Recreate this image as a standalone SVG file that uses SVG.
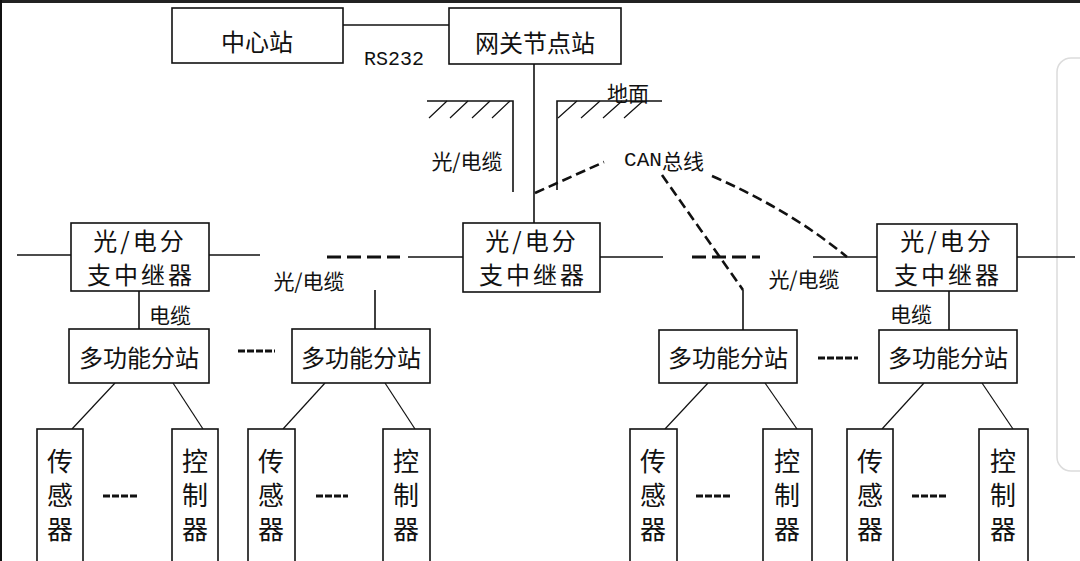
<svg xmlns="http://www.w3.org/2000/svg" width="1080" height="561" viewBox="0 0 1080 561">
<style>
.box{fill:#fff;stroke:#111;stroke-width:1.6}
.ln{stroke:#111;stroke-width:1.6;fill:none}
.hl{stroke:#111;stroke-width:1.2;fill:none}
.dash{stroke:#111;stroke-width:3;fill:none;stroke-dasharray:14 6}
.can{stroke:#111;stroke-width:2.6;fill:none;stroke-dasharray:10 5}
.sd{stroke:#111;stroke-width:3;fill:none;stroke-dasharray:7 2}
.t{font-family:"Noto Sans CJK SC","Liberation Sans",sans-serif;fill:#111;text-anchor:middle;dominant-baseline:central}
.big{font-size:24px;letter-spacing:3px}
.mid{font-size:24px}
.sm{font-size:21px}
.v{font-size:26px;writing-mode:vertical-rl;letter-spacing:8px}
.mono{font-family:"Liberation Mono",monospace;fill:#111;font-size:20px}
</style>
<rect x="0" y="0" width="1080" height="561" fill="#fff"/>
<rect x="1057" y="58" width="40" height="413" rx="14" fill="none" stroke="#dcdcdc" stroke-width="1.5"/>
<rect x="0" y="0" width="1080" height="3" fill="#222"/>
<rect x="0" y="0" width="2" height="561" fill="#111"/>

<g id="connectors">
  <line class="ln" x1="343" y1="25" x2="449" y2="25"/>
  <line class="ln" x1="534" y1="64" x2="534" y2="223"/>
  <polyline class="ln" points="427,101 513,101 513,192"/>
  <path class="hl" d="M447,101 l-18,17 M468,101 l-18,17 M490,101 l-18,17 M510,101 l-18,17"/>
  <polyline class="ln" points="557,190 557,101 662,101"/>
  <path class="hl" d="M577,101 l-19,17 M600,101 l-19,17 M622,101 l-19,17 M643,101 l-19,17"/>
  <line class="can" x1="535" y1="193" x2="604" y2="162"/>
  <line class="can" x1="662" y1="175" x2="743" y2="290"/>
  <path class="can" d="M712,176 Q790,210 847,257"/>
  <line class="ln" x1="17" y1="255" x2="71" y2="255"/>
  <line class="ln" x1="209" y1="255" x2="260" y2="255"/>
  <line class="dash" x1="327" y1="257" x2="400" y2="257"/>
  <line class="ln" x1="408" y1="257" x2="463" y2="257"/>
  <line class="ln" x1="600" y1="257" x2="663" y2="257"/>
  <line class="dash" x1="692" y1="257" x2="760" y2="257"/>
  <line class="ln" x1="813" y1="257" x2="877" y2="257"/>
  <line class="ln" x1="1017" y1="257" x2="1075" y2="257"/>
  <line class="ln" x1="139" y1="291" x2="139" y2="329"/>
  <line class="ln" x1="375" y1="290" x2="375" y2="329"/>
  <line class="ln" x1="743" y1="290" x2="743" y2="330"/>
  <line class="ln" x1="949" y1="291" x2="949" y2="330"/>
  <line class="sd" x1="238" y1="351" x2="275" y2="351"/>
  <line class="sd" x1="818" y1="358" x2="858" y2="358"/>
  <line class="hl" x1="115" y1="383" x2="72" y2="429"/>
  <line class="hl" x1="173" y1="383" x2="203" y2="429"/>
  <line class="hl" x1="325" y1="383" x2="283" y2="429"/>
  <line class="hl" x1="385" y1="383" x2="415" y2="429"/>
  <line class="hl" x1="708" y1="383" x2="665" y2="429"/>
  <line class="hl" x1="765" y1="383" x2="797" y2="429"/>
  <line class="hl" x1="924" y1="383" x2="882" y2="429"/>
  <line class="hl" x1="982" y1="383" x2="1013" y2="429"/>
  <line class="sd" x1="103" y1="496" x2="137" y2="496"/>
  <line class="sd" x1="316" y1="496" x2="348" y2="496"/>
  <line class="sd" x1="696" y1="496" x2="732" y2="496"/>
  <line class="sd" x1="912" y1="496" x2="948" y2="496"/>
</g>

<g id="labels">
  <text class="mono" x="394" y="65" text-anchor="middle">RS232</text>
  <text class="t sm" x="628" y="92">地面</text>
  <text class="t sm" x="467" y="160">光/电缆</text>
  <text class="t sm" x="664" y="160"><tspan font-family="Liberation Mono,monospace">CAN</tspan>总线</text>
  <text class="t sm" x="309" y="280">光/电缆</text>
  <text class="t sm" x="804" y="278">光/电缆</text>
  <text class="t sm" x="170" y="314">电缆</text>
  <text class="t sm" x="911" y="313">电缆</text>
</g>

<g id="center-station"><rect class="box" x="172" y="8" width="171" height="55"/><text class="t mid" x="257" y="40">中心站</text></g>
<g id="gateway"><rect class="box" x="449" y="8" width="172" height="56"/><text class="t mid" x="535" y="41">网关节点站</text></g>

<g id="repeater-left"><rect class="box" x="71" y="223" width="138" height="68"/><text class="t big" x="140" y="239">光/电分</text><text class="t big" x="141" y="273">支中继器</text></g>
<g id="repeater-center"><rect class="box" x="463" y="223" width="137" height="69"/><text class="t big" x="532" y="239">光/电分</text><text class="t big" x="533" y="273">支中继器</text></g>
<g id="repeater-right"><rect class="box" x="877" y="224" width="140" height="67"/><text class="t big" x="947" y="239">光/电分</text><text class="t big" x="948" y="273">支中继器</text></g>

<g id="station-1"><rect class="box" x="69" y="329" width="140" height="54"/><text class="t mid" x="139" y="356">多功能分站</text></g>
<g id="station-2"><rect class="box" x="292" y="329" width="138" height="54"/><text class="t mid" x="361" y="356">多功能分站</text></g>
<g id="station-3"><rect class="box" x="659" y="330" width="138" height="53"/><text class="t mid" x="728" y="356">多功能分站</text></g>
<g id="station-4"><rect class="box" x="879" y="330" width="138" height="53"/><text class="t mid" x="948" y="356">多功能分站</text></g>

<g id="sensor-1"><rect class="box" x="37" y="429" width="46" height="140"/><text class="t v" x="60" y="499">传感器</text></g>
<g id="controller-1"><rect class="box" x="172" y="429" width="46" height="140"/><text class="t v" x="195" y="499">控制器</text></g>
<g id="sensor-2"><rect class="box" x="248" y="429" width="47" height="140"/><text class="t v" x="271" y="499">传感器</text></g>
<g id="controller-2"><rect class="box" x="383" y="429" width="47" height="140"/><text class="t v" x="406" y="499">控制器</text></g>
<g id="sensor-3"><rect class="box" x="630" y="429" width="47" height="140"/><text class="t v" x="653" y="499">传感器</text></g>
<g id="controller-3"><rect class="box" x="763" y="429" width="49" height="140"/><text class="t v" x="787" y="499">控制器</text></g>
<g id="sensor-4"><rect class="box" x="847" y="429" width="46" height="140"/><text class="t v" x="870" y="499">传感器</text></g>
<g id="controller-4"><rect class="box" x="979" y="429" width="49" height="140"/><text class="t v" x="1003" y="499">控制器</text></g>
</svg>
